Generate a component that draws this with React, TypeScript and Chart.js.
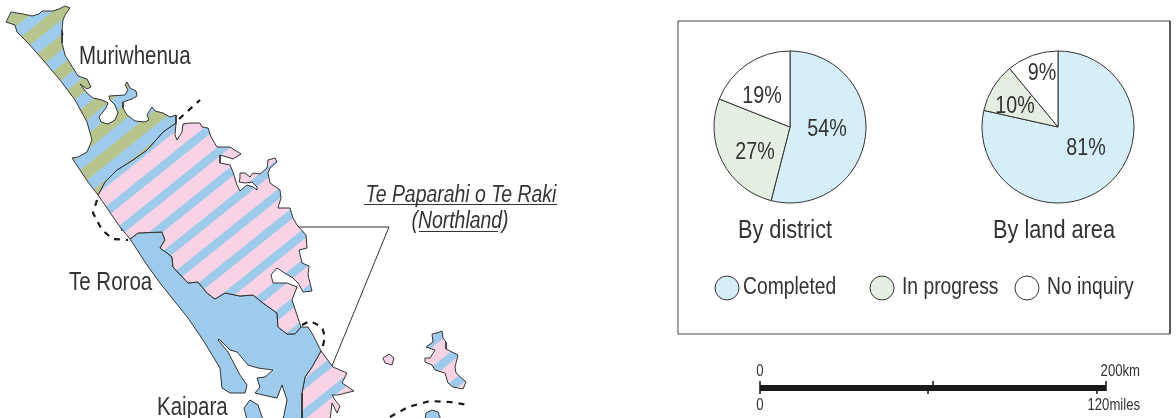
import React, { useEffect, useRef } from "react";
import { Chart, registerables } from "chart.js";
Chart.register(...registerables);

type P = [number, number];

// ---- pie data ----
const pieCategories = ["Completed", "In progress", "No inquiry"];
const byDistrictValues = [54, 27, 19];
const byDistrictLabels = ["54%", "27%", "19%"];
// Slices of the second pie as they are drawn in the reference (the printed labels differ slightly).
const byLandAreaValues = [78.5, 10.5, 11];
const byLandAreaLabels = ["81%", "10%", "9%"];
const pieColors = ["#d6eef7", "#e4efe1", "#ffffff"];
const pieTitles = ["By district", "By land area"];

// ---- map data: outlines ----
const muriwhenua: P[] = [[6,22],[11,12],[17,13],[23,14],[32,16],[39,14],[42,11],[53,11],[59,9],[65,6],[70,8],[65,15],[63,20],[62,30],[62,43],[65,55],[73,68],[78,76],[87,79],[91,87],[87,89],[80,84],[87,93],[93,98],[102,100],[108,103],[106,108],[99,117],[101,122],[108,124],[115,120],[118,113],[115,105],[110,100],[109,96],[125,95],[128,90],[125,85],[127,82],[130,88],[136,91],[137,96],[132,99],[123,102],[123,108],[127,115],[135,121],[145,122],[149,120],[147,115],[152,107],[155,111],[163,113],[170,117],[176,115],[176,123],[163,132],[147,150],[133,160],[117,170],[105,182],[98,195],[88,182],[72,158],[78,157],[87,152],[92,140],[87,122],[75,100],[60,80],[43,60],[28,43],[17,32],[15,25],[6,22]];
const divisionLine: P[] = [[176,123],[163,132],[147,150],[133,160],[117,170],[105,182]];
const teRoroaBoundary: P[] = [[130,239],[138,233],[162,232],[165,240],[160,248],[167,253],[172,257],[173,267],[188,283],[198,282],[207,293],[215,299],[225,293],[240,296],[253,295],[263,303],[277,313],[278,327],[287,334],[295,334],[301,327]];
const northlandCoast: P[] = [[105,182],[117,170],[133,160],[147,150],[163,132],[176,123],[175,135],[177,140],[182,132],[183,124],[190,123],[200,123],[202,127],[208,128],[211,137],[217,147],[230,147],[241,154],[233,159],[227,157],[220,155],[220,163],[230,165],[233,172],[237,185],[240,191],[247,185],[253,187],[257,190],[257,187],[252,182],[245,183],[239,182],[240,178],[240,173],[245,173],[250,177],[253,173],[260,174],[267,168],[268,160],[275,158],[277,162],[270,168],[268,173],[270,183],[280,190],[281,198],[278,208],[290,208],[293,218],[297,225],[306,235],[307,248],[299,250],[302,263],[309,266],[308,275],[312,291],[303,292],[298,283],[293,278],[283,272],[277,268],[271,275],[273,283],[287,283],[297,287],[292,300],[297,315],[301,327]];
const northlandWest: P[] = [[130,239],[120,227],[98,195],[105,182]];
const kaiparaLine: P[] = [[321,351],[312,367],[305,377],[302,393],[302,418]];
const teRoroaEast: P[] = [[308,327],[313,335]];
const kaiparaWest: P[] = [[302,420],[283,420],[287,400],[282,385],[277,398],[263,395],[255,393],[260,387],[257,378],[265,377],[273,370],[258,368],[248,365],[237,352],[230,350],[219,339],[218,340],[228,352],[240,375],[247,385],[245,393],[230,393],[222,388],[220,368],[203,340],[188,318],[160,283],[147,265],[130,239]];
const eastPeninsula: P[] = [[321,351],[333,367],[347,373],[342,383],[354,391],[338,395],[332,395],[335,400],[340,406],[337,413],[332,403],[330,420],[302,420],[302,393],[305,377],[312,367],[321,351]];
const barrierIsland: P[] = [[432,334],[437,333],[442,331],[443,338],[446,342],[446,349],[458,355],[455,367],[456,373],[466,382],[463,389],[453,387],[448,383],[445,373],[435,370],[432,365],[425,362],[425,358],[430,358],[435,350],[426,347],[433,342],[432,334]];
const smallIsland: P[] = [[383,358],[389,354],[394,358],[392,365],[385,363],[383,358]];
const southBlob: P[] = [[425,420],[426,413],[432,410],[438,412],[441,420]];
const harbourBlob: P[] = [[244,408],[250,400],[258,405],[263,420],[247,420],[244,408]];
const hokianga: P[] = [[120,224],[124,213],[123,205],[128,200],[135,202],[135,197],[140,195],[145,196],[148,188],[148,183],[147,179],[152,187],[159,189],[153,193],[148,197],[145,205],[142,200],[138,206],[135,203],[134,210],[130,207],[129,212],[128,220],[123,225],[122,231],[120,224]];
const whiteSpots: P[][] = [
  [[247,345],[253,342],[255,349],[265,357],[268,358],[275,353],[280,349],[275,358],[272,367],[268,362],[262,358],[250,352],[247,345]],
  [[265,377],[277,377],[289,367],[283,374],[275,380],[267,380],[265,377]],
  [[182,189],[185,187],[190,189],[187,193],[183,192],[182,189]],
  [[271,190],[280,197],[275,197],[271,190]],
  [[100,187],[105,182],[102,188],[105,193],[99,195],[100,187]],
  [[88,177],[95,174],[95,180],[92,183],[88,177]],
  [[45,32],[50,25],[55,27],[62,32],[63,33],[60,49],[57,40],[48,37],[45,32]],
];
const dashLines: P[][] = [
  [[179,119],[200,100]],
  [[97,200],[93,213],[102,230],[113,239],[128,240]],
  [[302,325],[310,321],[322,327],[325,337],[322,350]],
  [[390,417],[408,407],[430,401],[450,402],[468,405]],
];
const pointerLine: P[] = [[268,227],[389,227],[318,400]];
const siteMarkers: P[] = [[268,228],[318,400]];
const legendMarkers: P[] = [[727,288],[882,288],[1027,288]];
const frame: P[] = [[678,21],[1170,21],[1170,334],[678,334],[678,21]];
const scaleBar: P[] = [[760,388],[1106,388]];
const scaleTicks: P[][] = [
  [[760,381],[760,394]], [[1106,381],[1106,391]], [[933,381],[933,388]], [[928,388],[928,394]], [[1097,388],[1097,394]],
];
const placeNames = ["Muriwhenua", "Te Roroa", "Kaipara"];
const scaleLabels = ["0", "200km", "0", "120miles"];

const FAMILY = '"Liberation Sans", Arial, sans-serif';
const NARROW = 0.82;
const INK = "#333333";
const BLUE = "#9ecbeb";
const PINK = "#f8d3e5";
const OLIVE = "#b7c48e";
const LINE = "#333333";

function stripes(bg: string, fg: string, ox: number, oy: number, width: number): CanvasPattern | string {
  // tile drawn at twice the size, so that the 23.5px pitch lands on a whole tile
  const pitch2 = 47, half2 = width;
  const c = document.createElement("canvas");
  c.width = 8; c.height = pitch2;
  const g = c.getContext("2d")!;
  g.fillStyle = bg; g.fillRect(0, 0, 8, pitch2);
  g.fillStyle = fg; g.fillRect(0, 0, 8, half2); g.fillRect(0, pitch2 - half2, 8, half2);
  const pat = g.createPattern(c, "repeat")!;
  pat.setTransform(new DOMMatrix().translate(ox, oy).rotate(-38.7).scale(0.5, 0.5));
  return pat;
}

const xy = (pts: P[]) => pts.map(([x, y]) => ({ x, y }));
const area = (pts: P[], fillStyle: any, border = LINE, borderWidth = 1) => ({
  type: "scatter", data: xy(pts), showLine: true, fill: "shape", backgroundColor: fillStyle,
  borderColor: border, borderWidth, pointRadius: 0, tension: 0, clip: false,
});
const stroke = (pts: P[], w: number, color = "#222222", dash: number[] = []) => ({
  type: "scatter", data: xy(pts), showLine: true, fill: false, borderColor: color,
  borderWidth: w, borderDash: dash, pointRadius: 0, tension: 0, clip: false,
});
const dots = (pts: P[], r: number, bg: any[] | string, border: string, bw: number) => ({
  type: "scatter", data: xy(pts), showLine: false, pointRadius: r, pointBackgroundColor: bg,
  pointBorderColor: border, pointBorderWidth: bw, clip: false,
});

function narrowText(c: CanvasRenderingContext2D, s: string, x: number, y: number, size: number, align: CanvasTextAlign = "left", style = "") {
  c.save();
  c.translate(x, y);
  c.scale(NARROW, 1);
  c.font = `${style} ${size}px ${FAMILY}`;
  c.textAlign = align; c.textBaseline = "middle"; c.fillStyle = INK;
  c.fillText(s, 0, 0);
  c.restore();
}

const textPlugin = {
  id: "mapText",
  afterDatasetsDraw(chart: any) {
    const c = chart.ctx as CanvasRenderingContext2D;
    const put = (s: string, x: number, y: number, size: number, align: CanvasTextAlign = "left", style = "") =>
      narrowText(c, s, x, y, size, align, style);
    put(placeNames[0], 79, 57, 25);
    put(placeNames[1], 69, 283, 25);
    put(placeNames[2], 157, 408, 25);
    put("Te Paparahi o Te Raki", 461, 195, 23.7, "center", "italic");
    put("(Northland)", 460, 221, 23.7, "center", "italic");
    c.fillStyle = INK;
    c.fillRect(364, 204, 193, 1);
    c.fillRect(419, 231, 79, 1);
    put(pieTitles[0], 785, 231, 26.5, "center");
    put(pieTitles[1], 1054, 231, 26.5, "center");
    put(pieCategories[0], 743, 288, 23.5);
    put(pieCategories[1], 902, 288, 23.5);
    put(pieCategories[2], 1047, 288, 23.5);
    put(scaleLabels[0], 760, 372, 16, "center");
    put(scaleLabels[1], 1140, 372, 16, "right");
    put(scaleLabels[2], 760, 406, 16, "center");
    put(scaleLabels[3], 1140, 406, 16, "right");
  },
};

const pieLabelPlugin = (labels: string[], offsets: P[]) => ({
  id: "pieLabels",
  afterDatasetsDraw(chart: any) {
    const c = chart.ctx as CanvasRenderingContext2D;
    const cx = (chart.chartArea.left + chart.chartArea.right) / 2;
    const cy = (chart.chartArea.top + chart.chartArea.bottom) / 2;
    labels.forEach((s, i) => narrowText(c, s, cx + offsets[i][0], cy + offsets[i][1], 24, "center"));
  },
});

function makePie(cv: HTMLCanvasElement, values: number[], labels: string[], offsets: P[]) {
  return new Chart(cv, {
    type: "pie",
    data: {
      labels: pieCategories,
      datasets: [{ data: values, backgroundColor: pieColors, borderColor: "#333333", borderWidth: 1, borderAlign: "center" } as any],
    },
    options: {
      animation: false, responsive: false, radius: 76,
      layout: { padding: 0, autoPadding: false },
      plugins: { legend: { display: false }, tooltip: { enabled: false } },
    } as any,
    plugins: [pieLabelPlugin(labels, offsets)],
  });
}

export default function App() {
  const mapRef = useRef<HTMLCanvasElement>(null);
  const pie1Ref = useRef<HTMLCanvasElement>(null);
  const pie2Ref = useRef<HTMLCanvasElement>(null);

  useEffect(() => {
    document.body.style.margin = "0";
    document.body.style.background = "#ffffff";
    const pink = stripes(PINK, BLUE, 228.3, 174, 8.5);
    const olive = stripes(BLUE, OLIVE, 66.7, 188.7, 12);
    const northland = [...northlandCoast, ...[...teRoroaBoundary].reverse(), ...northlandWest];
    const kaipara = [...teRoroaBoundary, ...teRoroaEast, ...kaiparaLine, ...kaiparaWest];
    const map = new Chart(mapRef.current!, {
      type: "scatter",
      data: {
        datasets: [
          area(muriwhenua, olive),
          area(northland, pink),
          area(kaipara, BLUE),
          area(eastPeninsula, pink),
          area(barrierIsland, pink),
          area(smallIsland, PINK),
          area(southBlob, BLUE),
          area(harbourBlob, BLUE),
          area(hokianga, "#ffffff"),
          ...whiteSpots.map((s) => area(s, "#ffffff")),
          stroke(divisionLine, 2.5, "#1a1a1a"),
          stroke(teRoroaBoundary, 2.5, "#1a1a1a"),
          stroke(kaiparaLine, 2.5, "#1a1a1a"),
          ...dashLines.map((d) => stroke(d, 2.2, "#1a1a1a", [6, 6])),
          stroke(pointerLine, 1, "#333333"),
          dots(siteMarkers, 8, "#ffffff", "#333333", 1),
          dots(siteMarkers, 4, "#1a1a1a", "#1a1a1a", 0),
          stroke(frame, 1, "#444444"),
          dots(legendMarkers, 12, pieColors, "#333333", 1),
          stroke(scaleBar, 6, "#1a1a1a"),
          ...scaleTicks.map((t) => stroke(t, 1, "#333333")),
        ] as any,
      },
      options: {
        animation: false, responsive: false,
        layout: { padding: 0, autoPadding: false },
        scales: {
          x: { type: "linear", min: 0, max: 1176, display: false },
          y: { type: "linear", min: 0, max: 418, reverse: true, display: false },
        },
        plugins: { legend: { display: false }, tooltip: { enabled: false } },
      } as any,
      plugins: [textPlugin],
    });
    const p1 = makePie(pie1Ref.current!, byDistrictValues, byDistrictLabels, [[37, 2], [-35, 25], [-28, -31]]);
    const p2 = makePie(pie2Ref.current!, byLandAreaValues, byLandAreaLabels, [[28, 21], [-43, -21], [-16, -54]]);
    return () => { map.destroy(); p1.destroy(); p2.destroy(); };
  }, []);

  const abs = (left: number, top: number): React.CSSProperties => ({ position: "absolute", left, top, display: "block" });
  return (
    <div style={{ position: "relative", width: 1176, height: 418, overflow: "hidden", background: "#fff" }}>
      <canvas ref={mapRef} width={1176} height={418} style={abs(0, 0)} />
      <canvas ref={pie1Ref} width={160} height={160} style={abs(710, 47)} />
      <canvas ref={pie2Ref} width={160} height={160} style={abs(978, 47)} />
    </div>
  );
}
